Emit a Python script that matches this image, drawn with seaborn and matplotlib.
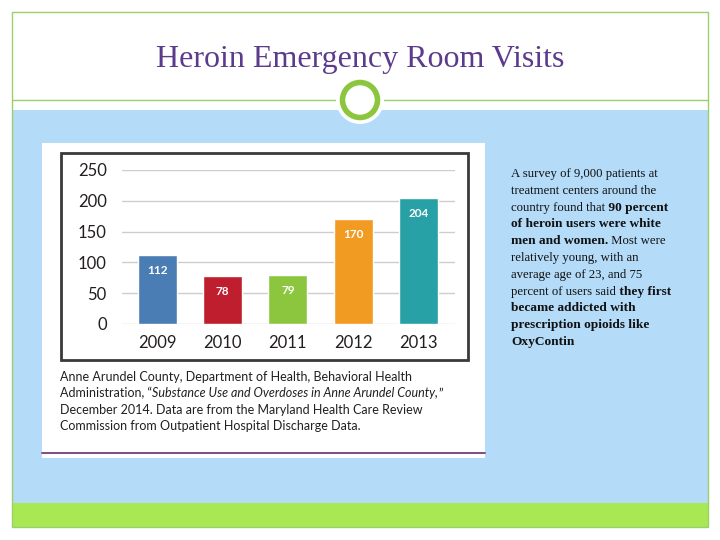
import matplotlib
matplotlib.use("Agg")
import matplotlib.pyplot as plt
from matplotlib.patches import Rectangle, Circle
import pandas as pd
import seaborn as sns

# chart data
years = ["2009", "2010", "2011", "2012", "2013"]
visits = [112, 78, 79, 170, 204]
bar_colors = ["#4a7db4", "#be1e2d", "#8cc63f", "#f29b22", "#28a1a6"]
y_ticks = [0, 50, 100, 150, 200, 250]

title = "Heroin Emergency Room Visits"

# caption under the chart: (text, style) pieces per line
source_lines = [
    [("Anne Arundel County, Department of Health, Behavioral Health", "normal")],
    [("Administration, \u201c", "normal"),
     ("Substance Use and Overdoses in Anne Arundel County,", "italic"),
     ("\u201d", "normal")],
    [("December 2014. Data are from the Maryland Health Care Review", "normal")],
    [("Commission from Outpatient Hospital Discharge Data.", "normal")],
]

# side note: (text, bold) pieces per line
note_lines = [
    [("A survey of 9,000 patients at", False)],
    [("treatment centers around the", False)],
    [("country found that", False), (" 90 percent", True)],
    [("of heroin users were white", True)],
    [("men and women.", True), (" Most were", False)],
    [("relatively young, with an", False)],
    [("average age of 23, and 75", False)],
    [("percent of users said", False), (" they first", True)],
    [("became addicted with", True)],
    [("prescription opioids like", True)],
    [("OxyContin", True)],
]

sns.set_theme(style="white")
plt.rcParams["font.family"] = ["Lato", "DejaVu Sans"]

fig = plt.figure(figsize=(7.2, 5.4), dpi=100)
fig.patch.set_facecolor("white")

# slide background drawn in pixel units
bg = fig.add_axes([0, 0, 1, 1])
bg.set_xlim(0, 720)
bg.set_ylim(540, 0)
bg.axis("off")

frame_green = "#9ccf6b"
bg.add_patch(Rectangle((12, 110), 696, 393, facecolor="#b4dbf8", edgecolor="none", zorder=1))
bg.add_patch(Rectangle((12, 503), 696, 24, facecolor="#a8e853", edgecolor="none", zorder=1))
bg.add_patch(Rectangle((12, 12), 696, 515, facecolor="none", edgecolor=frame_green, lw=1, zorder=2))
bg.plot([12, 708], [100, 100], color=frame_green, lw=1, zorder=2)
bg.add_patch(Circle((360, 100), 24, facecolor="white", edgecolor="none", zorder=3))
bg.add_patch(Circle((360, 100), 17.5, facecolor="white", edgecolor="#8cc63f", lw=4, zorder=4))

bg.text(360, 60, title, ha="center", va="center", fontsize=23,
        family=["Liberation Serif", "DejaVu Serif"], color="#5c3a8c")

# white card holding the chart
bg.add_patch(Rectangle((42, 143), 443, 315, facecolor="white", edgecolor="none", zorder=1))
bg.add_patch(Rectangle((60.5, 152.5), 407, 207.5, facecolor="none", edgecolor="#3a3a3a", lw=2, zorder=2))
bg.plot([42, 485], [453, 453], color="#7a3b7d", lw=1.3, zorder=2)


def draw_note(lines, x0, y0, dy):
    for i, parts in enumerate(lines):
        prev = None
        for text, bold in parts:
            kw = dict(fontsize=9.6 if bold else 9.2, fontweight="bold" if bold else "normal",
                      family=["Liberation Serif", "DejaVu Serif"], color="#111111",
                      va="center", ha="left")
            if prev is None:
                prev = bg.text(x0, y0 + i * dy, text, **kw)
            else:
                prev = bg.annotate(text, xy=(1, 0.5), xycoords=prev, **kw)


def draw_source(lines, x0, y0, dy):
    for i, parts in enumerate(lines):
        prev = None
        for text, style in parts:
            kw = dict(fontsize=9, fontstyle=style, color="#231f20", va="center", ha="left")
            if prev is None:
                prev = bg.text(x0, y0 + i * dy, text, **kw)
            else:
                prev = bg.annotate(text, xy=(1, 0.5), xycoords=prev, **kw)


draw_note(note_lines, 511, 174, 16.8)
draw_source(source_lines, 60, 377, 16.3)

# the bar chart itself
ax = fig.add_axes([122 / 720, 1 - 324 / 540, (455 - 122) / 720, (324 - 170) / 540])
ax.set_facecolor("none")
df = pd.DataFrame({"year": years, "visits": visits})
sns.barplot(data=df, x="year", y="visits", hue="year", palette=bar_colors,
            legend=False, width=0.6, saturation=1, ax=ax, zorder=3)

ax.set_ylim(0, 250)
ax.set_yticks(y_ticks)
ax.set_xlim(-0.54, 4.56)
ax.set_xticks([-0.54, 0.5, 1.5, 2.5, 3.5, 4.56], minor=True)
ax.grid(axis="y", color="#cdcdcd", lw=1)
ax.set_axisbelow(True)
for s in ax.spines.values():
    s.set_visible(False)
ax.set_xlabel("")
ax.set_ylabel("")
ax.tick_params(axis="y", length=0, pad=11, labelsize=12, labelcolor="#231f20")
ax.tick_params(axis="x", which="major", length=0, pad=8, labelsize=12, labelcolor="#231f20")
ax.tick_params(axis="x", which="minor", length=5, width=1, color="#cdcdcd", direction="out")

for p, v in zip(ax.patches, visits):
    ax.annotate(str(v), (p.get_x() + p.get_width() / 2, v), xytext=(0, -11),
                textcoords="offset points", ha="center", va="center",
                color="white", fontweight="bold", fontsize=8.5)

fig.savefig("out.png", dpi=100)
